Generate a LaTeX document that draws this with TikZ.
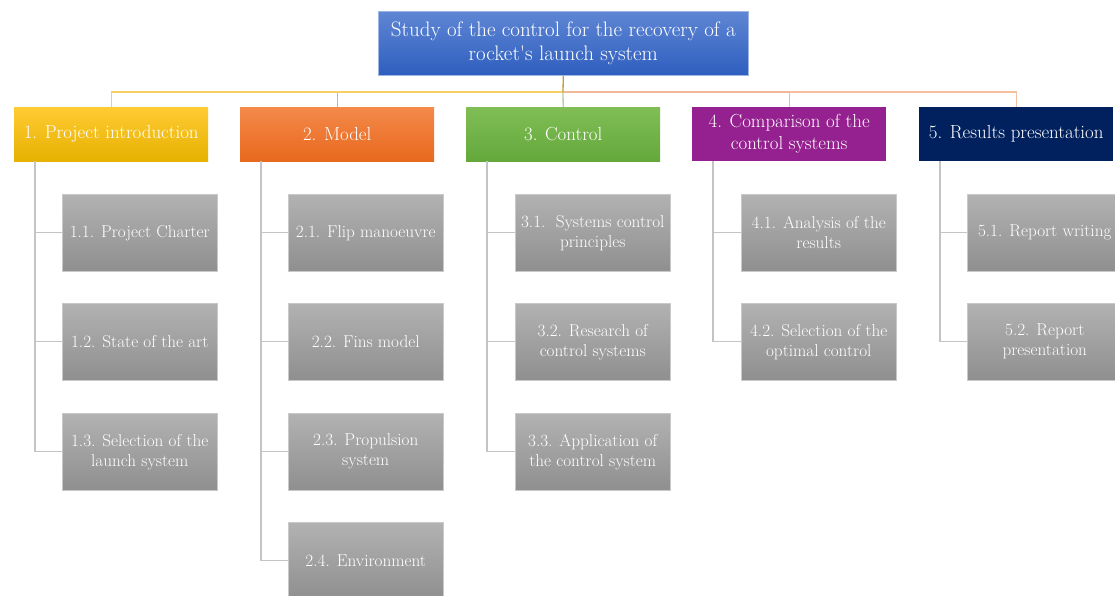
\documentclass[tikz,border=0pt]{standalone}
\usetikzlibrary{positioning}
\definecolor{rootT}{HTML}{5F86D4}
\definecolor{rootB}{HTML}{2E5EBE}
\definecolor{yelT}{HTML}{FFCB33}
\definecolor{yelB}{HTML}{E6B100}
\definecolor{oraT}{HTML}{F4894A}
\definecolor{oraB}{HTML}{E8691E}
\definecolor{grnT}{HTML}{80BE55}
\definecolor{grnB}{HTML}{64A83C}
\definecolor{purp}{HTML}{95208F}
\definecolor{navy}{HTML}{00205E}
\definecolor{grayT}{HTML}{B2B2B2}
\definecolor{grayB}{HTML}{8F8F8F}
\definecolor{treeline}{HTML}{C4C4C4}
\definecolor{cYel}{HTML}{F8CF62}
\definecolor{cOra}{HTML}{F3A874}
\definecolor{cGrn}{HTML}{B2D0A2}
\definecolor{cSal}{HTML}{F0B898}
\definecolor{cPnk}{HTML}{F6C0A0}
\definecolor{cStem}{HTML}{C99A3A}
\tikzset{
  x=1pt, y=-1pt,
  rootbox/.style={anchor=north west, minimum width=370pt, minimum height=64pt,
    top color=rootT, bottom color=rootB, draw=rootT!60!white, line width=0.6pt,
    text=white, align=center, inner sep=1pt, font=\fontsize{21}{24}\selectfont},
  topbox/.style={anchor=north west, minimum width=194pt, minimum height=54pt,
    text=white, align=center, inner sep=1pt, font=\fontsize{18.9}{22}\selectfont},
  subbox/.style={anchor=north west, minimum width=155pt, minimum height=77pt,
    top color=grayT, bottom color=grayB, draw=grayT!70!white, line width=0.5pt,
    text=white, align=center, inner sep=1pt, font=\fontsize{17.2}{20}\selectfont},
  link/.style={line width=1.3pt},
  tree/.style={draw=treeline, line width=1.3pt},
}
\begin{document}
\begin{tikzpicture}
\useasboundingbox[fill=white] (0,0) rectangle (1115,596);

% root
\node[rootbox] (root) at (378,11) {Study of the control for the recovery of a\\rocket\textquotesingle s launch system};

% level 1
\node[topbox, top color=yelT, bottom color=yelB] (n1) at (14,107) {1. Project introduction};
\node[topbox, top color=oraT, bottom color=oraB] (n2) at (240,107) {2. Model};
\node[topbox, top color=grnT, bottom color=grnB] (n3) at (466,107) {3. Control};
\node[topbox, fill=purp] (n4) at (692,107) {4. Comparison of the\\control systems};
\node[topbox, fill=navy] (n5) at (919,107) {5. Results presentation};

% connectors root -> level 1
\coordinate (j) at (563,92);
\draw[link, cPnk] (j) -| (n5.north);
\draw[link, cSal] (j) -| (n4.north);
\draw[link, cOra] (j) -| (n2.north);
\draw[link, cYel] (j) -| (n1.north);
\draw[link, cGrn] (j) -- (n3.north);
\draw[link, cStem] (root.south) -- (j);

% sub boxes
\node[subbox] (s11) at (62,194) {1.1. Project Charter};
\node[subbox] (s12) at (62,303) {1.2. State of the art};
\node[subbox] (s13) at (62,413) {1.3. Selection of the\\launch system};

\node[subbox] (s21) at (288,194) {2.1. Flip manoeuvre};
\node[subbox] (s22) at (288,303) {2.2. Fins model};
\node[subbox] (s23) at (288,413) {2.3. Propulsion\\system};
\node[subbox] (s24) at (288,522) {2.4. Environment};

\node[subbox] (s31) at (515,194) {3.1.\ \ Systems control\\principles};
\node[subbox] (s32) at (515,303) {3.2. Research of\\control systems};
\node[subbox] (s33) at (515,413) {3.3. Application of\\the control system};

\node[subbox] (s41) at (741,194) {4.1. Analysis of the\\results};
\node[subbox] (s42) at (741,303) {4.2. Selection of the\\optimal control};

\node[subbox] (s51) at (967,194) {5.1. Report writing};
\node[subbox] (s52) at (967,303) {5.2. Report\\presentation};

% tree lines
\foreach \p/\last/\kids in {n1/s13/{s11,s12,s13}, n2/s24/{s21,s22,s23,s24}, n3/s33/{s31,s32,s33}, n4/s42/{s41,s42}, n5/s52/{s51,s52}}{
  \coordinate (t\p) at ([xshift=21pt]\p.south west);
  \foreach \k in \kids {
    \draw[tree] (t\p) |- (\k.west);
  }
}
\end{tikzpicture}
\end{document}
